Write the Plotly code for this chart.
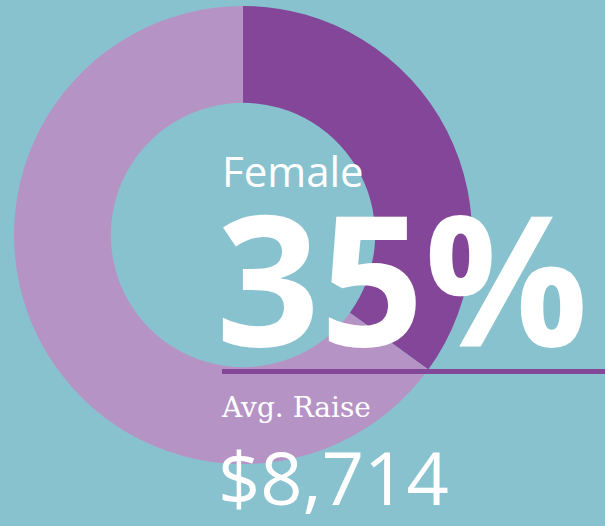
"""Donut highlight card: share of female employees and their average raise."""

import plotly.graph_objects as go

# Data
labels = ["Female", "Male"]
values = [35, 65]
slice_colors = ["#834699", "#B594C5"]

headline_label = "Female"
headline_share = 35
raise_label = "Avg. Raise"
avg_raise = 8714

BG = "#89C2CF"
W, H = 605, 526


def px_x(x):
    return x / W


def px_y(y):
    return (H - y) / H


fig = go.Figure()

fig.add_trace(
    go.Pie(
        labels=labels,
        values=values,
        hole=0.577,
        sort=False,
        direction="clockwise",
        rotation=0,
        marker=dict(colors=slice_colors, line=dict(width=0)),
        textinfo="none",
        hoverinfo="label+percent",
        showlegend=False,
        domain=dict(x=[px_x(14), px_x(472)], y=[px_y(464), px_y(6)]),
    )
)

# Divider under the percentage
fig.add_shape(
    type="line",
    xref="paper", yref="paper",
    x0=px_x(222), x1=1.0,
    y0=px_y(371.5), y1=px_y(371.5),
    line=dict(color="#834699", width=5),
)

fig.add_annotation(
    text=headline_label,
    x=px_x(220), y=px_y(170),
    xref="paper", yref="paper",
    xanchor="left", yanchor="middle",
    showarrow=False,
    font=dict(family="Open Sans", size=42, color="white"),
)

fig.add_annotation(
    text=f"<b>{headline_share}%</b>",
    x=px_x(214), y=px_y(275),
    xref="paper", yref="paper",
    xanchor="left", yanchor="middle",
    showarrow=False,
    font=dict(family="Open Sans", size=182, color="white"),
)

fig.add_annotation(
    text=raise_label,
    x=px_x(219), y=px_y(407),
    xref="paper", yref="paper",
    xanchor="left", yanchor="middle",
    showarrow=False,
    font=dict(family="DejaVu Serif", size=28, color="white"),
)

fig.add_annotation(
    text=f"${avg_raise:,}",
    x=px_x(216), y=px_y(476),
    xref="paper", yref="paper",
    xanchor="left", yanchor="middle",
    showarrow=False,
    font=dict(family="Open Sans", size=74, color="white"),
)

fig.update_layout(
    width=W,
    height=H,
    margin=dict(l=0, r=0, t=0, b=0),
    paper_bgcolor=BG,
    plot_bgcolor=BG,
)

fig.write_html(
    "out.html",
    config={"displayModeBar": False},
    post_script="document.body.style.margin='0';document.body.style.overflow='hidden';",
)
